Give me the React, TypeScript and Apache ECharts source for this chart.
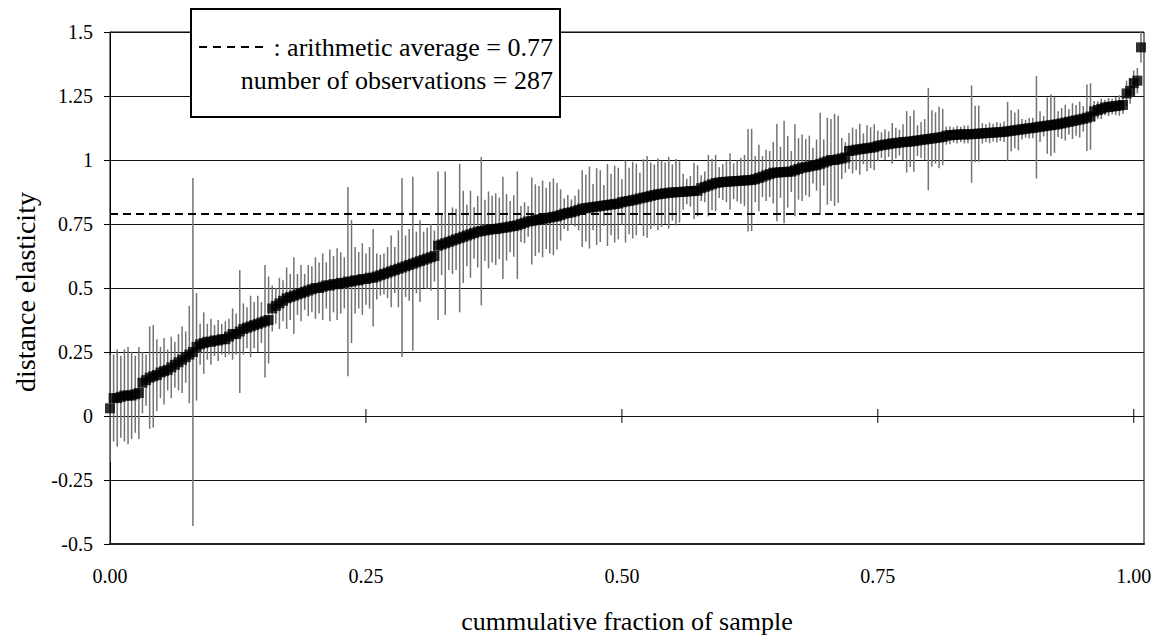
import React, { useEffect, useRef } from "react";
import * as echarts from "echarts";

// Sorted distance elasticities (287 observations)
const elasticities: number[] = [
  0.03,
  0.07, 0.07, 0.075, 0.08, 0.08, 0.08, 0.085, 0.09,
  0.13, 0.14, 0.15, 0.155, 0.16,
  0.17, 0.175, 0.18, 0.19, 0.2,
  0.21, 0.22, 0.23, 0.24,
  0.25, 0.27,
  0.28, 0.285, 0.29, 0.29, 0.295, 0.295, 0.3, 0.3,
  0.31, 0.32, 0.32, 0.33,
  0.34, 0.345, 0.35, 0.355, 0.36, 0.365, 0.37, 0.375,
  0.42, 0.43, 0.44, 0.45, 0.46,
  0.465, 0.47, 0.475, 0.48, 0.485, 0.49, 0.495,
  0.5, 0.5, 0.505, 0.51, 0.51, 0.515, 0.515, 0.52, 0.52, 0.525,
  0.525, 0.53, 0.53, 0.535, 0.535, 0.54, 0.54, 0.545, 0.55,
  0.555, 0.56, 0.565, 0.57, 0.575, 0.58, 0.585, 0.59,
  0.595, 0.6, 0.605, 0.61, 0.615, 0.62, 0.625,
  0.665, 0.67, 0.675, 0.68, 0.685, 0.69,
  0.695, 0.7, 0.705, 0.71, 0.715, 0.72,
  0.722, 0.725, 0.727, 0.73, 0.73, 0.733, 0.735,
  0.737, 0.74, 0.742, 0.745, 0.75, 0.755, 0.76,
  0.762, 0.765, 0.768, 0.77, 0.772, 0.775, 0.778, 0.78,
  0.785, 0.79, 0.793, 0.796, 0.8, 0.805,
  0.81, 0.812, 0.814, 0.816, 0.818, 0.82, 0.822, 0.824, 0.826, 0.828, 0.83,
  0.835, 0.838, 0.84, 0.843, 0.846, 0.85, 0.853, 0.856, 0.86, 0.863, 0.866,
  0.868, 0.87, 0.872, 0.873, 0.874, 0.875, 0.876, 0.877, 0.878, 0.879, 0.88,
  0.89, 0.895, 0.9, 0.905, 0.91,
  0.912, 0.914, 0.915, 0.916, 0.917, 0.918, 0.919, 0.92, 0.921, 0.922, 0.925,
  0.93, 0.935, 0.94, 0.945, 0.95,
  0.951, 0.952, 0.953, 0.954, 0.955,
  0.96, 0.965, 0.97, 0.972, 0.975, 0.978, 0.98, 0.985,
  0.99, 0.995, 1.0, 1.0, 1.003, 1.006, 1.01,
  1.035, 1.037, 1.04, 1.042, 1.044, 1.046, 1.048, 1.05,
  1.055, 1.058, 1.06, 1.062, 1.065,
  1.066, 1.068, 1.07, 1.071, 1.072, 1.074, 1.076, 1.078,
  1.08, 1.082, 1.084, 1.086, 1.088, 1.09,
  1.095, 1.097, 1.098, 1.099, 1.1, 1.1, 1.1,
  1.101, 1.102, 1.103, 1.104, 1.105, 1.106, 1.107, 1.108, 1.109, 1.11,
  1.112, 1.114, 1.116, 1.118, 1.12, 1.122, 1.124, 1.125,
  1.128, 1.13, 1.132, 1.134, 1.136, 1.138, 1.14,
  1.143, 1.146, 1.149, 1.152, 1.155, 1.158, 1.161, 1.165, 1.17,
  1.19, 1.195, 1.2,
  1.205, 1.207, 1.209, 1.211, 1.213, 1.215,
  1.26, 1.27,
  1.3, 1.31,
  1.44,
];

// Half-width of each confidence interval (error bar)
const halfWidths: number[] = [
  0.21,
  0.17, 0.19, 0.16, 0.18, 0.19, 0.17, 0.15, 0.18,
  0.12, 0.10, 0.20, 0.20, 0.14,
  0.10, 0.13, 0.08, 0.12, 0.09,
  0.11, 0.13, 0.10, 0.19,
  0.68,
  0.21, 0.08, 0.12, 0.07, 0.09, 0.06, 0.08, 0.06, 0.07,
  0.07, 0.10, 0.08, 0.24,
  0.10, 0.08, 0.12, 0.09, 0.11, 0.08, 0.22, 0.17,
  0.09, 0.07, 0.10, 0.08, 0.12, 0.09, 0.15, 0.08, 0.11, 0.07, 0.10, 0.09,
  0.12, 0.10, 0.13, 0.09, 0.14, 0.11, 0.14, 0.12, 0.10, 0.37,
  0.24, 0.13, 0.11, 0.14, 0.10, 0.12, 0.19, 0.09, 0.08,
  0.08, 0.10, 0.14, 0.09, 0.15, 0.35, 0.12, 0.14,
  0.34, 0.12, 0.16, 0.11, 0.12, 0.13, 0.10,
  0.29, 0.12, 0.28, 0.11, 0.13, 0.12,
  0.29, 0.18, 0.12, 0.17, 0.10, 0.14,
  0.29, 0.12, 0.15, 0.13, 0.14, 0.12, 0.20,
  0.13, 0.10, 0.12, 0.21, 0.07, 0.08, 0.06,
  0.17, 0.14, 0.13, 0.15, 0.12, 0.14, 0.15, 0.13,
  0.10, 0.06, 0.07, 0.05, 0.06, 0.08,
  0.15, 0.13, 0.16, 0.09, 0.15, 0.14, 0.08, 0.16, 0.12, 0.15, 0.14,
  0.09, 0.16, 0.13, 0.15, 0.14, 0.10, 0.15, 0.16, 0.13, 0.12, 0.14,
  0.13, 0.12, 0.14, 0.11, 0.13, 0.12, 0.07, 0.05, 0.06, 0.11, 0.10,
  0.05, 0.06, 0.12, 0.10, 0.11, 0.06, 0.07, 0.08, 0.11, 0.07, 0.08, 0.09, 0.10, 0.20, 0.20, 0.09,
  0.13, 0.08, 0.10, 0.09, 0.12, 0.19, 0.10, 0.20, 0.14, 0.08,
  0.18, 0.12, 0.13, 0.11, 0.12, 0.07, 0.10, 0.20, 0.09, 0.17, 0.16, 0.18, 0.17, 0.08, 0.06,
  0.07, 0.09, 0.08, 0.10, 0.06, 0.09, 0.08, 0.09, 0.06, 0.05, 0.06,
  0.05, 0.08, 0.06, 0.05, 0.07, 0.12, 0.10, 0.12, 0.06, 0.07,
  0.08, 0.20, 0.11, 0.10, 0.12, 0.11, 0.035, 0.035, 0.03, 0.035, 0.03, 0.035, 0.035,
  0.19, 0.11, 0.11, 0.04, 0.035, 0.04, 0.035, 0.04, 0.035, 0.04,
  0.115, 0.08, 0.07, 0.08, 0.04, 0.035, 0.04, 0.04,
  0.20, 0.06, 0.04, 0.11, 0.12, 0.11, 0.05,
  0.06, 0.07, 0.05, 0.07, 0.06, 0.07, 0.05, 0.13, 0.13,
  0.04, 0.035, 0.04, 0.03, 0.035, 0.03, 0.035, 0.04, 0.035,
  0.05, 0.05, 0.05, 0.05,
  0.06,
];

const rankDenominator = 284;
const averageLine = 0.79;
const averageText = ": arithmetic average = 0.77";
const countText = "number of observations = 287";
const zeroTickValues = [0.25, 0.5, 0.75, 1.0];
const xTitle = "cummulative fraction of sample";
const yTitle = "distance elasticity";

const FONT = "Liberation Serif";

export default function App() {
  const ref = useRef<HTMLDivElement>(null);

  useEffect(() => {
    if (!ref.current) return;
    const chart = echarts.init(ref.current, undefined, { renderer: "svg" });

    const points = elasticities.map((v, i) => [i / rankDenominator, v, halfWidths[i]]);

    const option: any = {
      animation: false,
      backgroundColor: "#fff",
      textStyle: { fontFamily: FONT },
      grid: {
        left: 110,
        right: 20,
        top: 32,
        bottom: 91,
        show: true,
        borderColor: "#000",
        borderWidth: 1,
        backgroundColor: "transparent",
      },
      xAxis: {
        type: "value",
        min: 0,
        max: 1.01,
        interval: 0.25,
        axisLine: { show: true, onZero: false, lineStyle: { color: "#222", width: 2 } },
        axisTick: { show: false },
        splitLine: { show: false },
        axisLabel: {
          showMaxLabel: false,
          fontFamily: FONT,
          fontSize: 20,
          color: "#000",
          margin: 22,
          formatter: (v: number) =>
            Math.abs(v * 4 - Math.round(v * 4)) < 1e-6 ? v.toFixed(2) : "",
        },
      },
      yAxis: {
        type: "value",
        min: -0.5,
        max: 1.5,
        interval: 0.25,
        axisLine: { show: true, onZero: false, lineStyle: { color: "#000", width: 1 } },
        axisTick: { show: true, length: 6, lineStyle: { color: "#000" } },
        splitLine: { show: true, lineStyle: { color: "#111", width: 1 } },
        axisLabel: { fontFamily: FONT, fontSize: 20, color: "#000", margin: 17 },
      },
      series: [
        {
          type: "custom",
          name: "errorbars",
          clip: true,
          silent: true,
          z: 2,
          encode: { x: 0, y: 1 },
          data: points,
          renderItem: (params: any, api: any) => {
            const x = api.value(0);
            const y = api.value(1);
            const e = api.value(2);
            const p1 = api.coord([x, y - e]);
            const p2 = api.coord([x, y + e]);
            return {
              type: "line",
              shape: { x1: p1[0], y1: p1[1], x2: p2[0], y2: p2[1] },
              style: { stroke: "#737373", lineWidth: 1.5 },
            };
          },
        },
        {
          type: "custom",
          name: "zeroTicks",
          silent: true,
          z: 3,
          encode: { x: 0, y: 1 },
          data: zeroTickValues.map((v) => [v, 0]),
          renderItem: (params: any, api: any) => {
            const p = api.coord([api.value(0), api.value(1)]);
            return {
              type: "line",
              shape: { x1: p[0], y1: p[1] - 7, x2: p[0], y2: p[1] + 7 },
              style: { stroke: "#000", lineWidth: 1 },
            };
          },
        },
        {
          type: "scatter",
          name: "elasticity",
          symbol: "rect",
          symbolSize: 10,
          silent: true,
          z: 4,
          itemStyle: { color: "#000" },
          data: points.map((p) => [p[0], p[1]]),
          markLine: {
            silent: true,
            symbol: "none",
            label: { show: false },
            lineStyle: { color: "#000", type: [8, 5], width: 2 },
            data: [{ yAxis: averageLine }],
          },
        },
      ],
      graphic: [
        {
          type: "rect",
          z: 100,
          shape: { x: 191, y: 9, width: 369, height: 108 },
          style: { fill: "#fff", stroke: "#000", lineWidth: 2 },
        },
        {
          type: "line",
          z: 101,
          shape: { x1: 199, y1: 47, x2: 263, y2: 47 },
          style: { stroke: "#000", lineWidth: 2, lineDash: [8, 6] },
        },
        {
          type: "text",
          z: 101,
          x: 553,
          y: 47,
          style: {
            text: averageText,
            fontFamily: FONT,
            fontSize: 26,
            fill: "#000",
            textAlign: "right",
            textVerticalAlign: "middle",
          },
        },
        {
          type: "text",
          z: 101,
          x: 553,
          y: 80,
          style: {
            text: countText,
            fontFamily: FONT,
            fontSize: 26,
            fill: "#000",
            textAlign: "right",
            textVerticalAlign: "middle",
          },
        },
        {
          type: "text",
          z: 101,
          x: 627,
          y: 621,
          style: {
            text: xTitle,
            fontFamily: FONT,
            fontSize: 26,
            fill: "#000",
            textAlign: "center",
            textVerticalAlign: "middle",
          },
        },
        {
          type: "text",
          z: 101,
          x: 25,
          y: 292,
          rotation: Math.PI / 2,
          style: {
            text: yTitle,
            fontFamily: FONT,
            fontSize: 28,
            fill: "#000",
            textAlign: "center",
            textVerticalAlign: "middle",
          },
        },
      ],
    };

    chart.setOption(option);
    return () => {
      chart.dispose();
    };
  }, []);

  return (
    <div
      ref={ref}
      style={{ position: "fixed", left: 0, top: 0, width: 1164, height: 635 }}
    />
  );
}
